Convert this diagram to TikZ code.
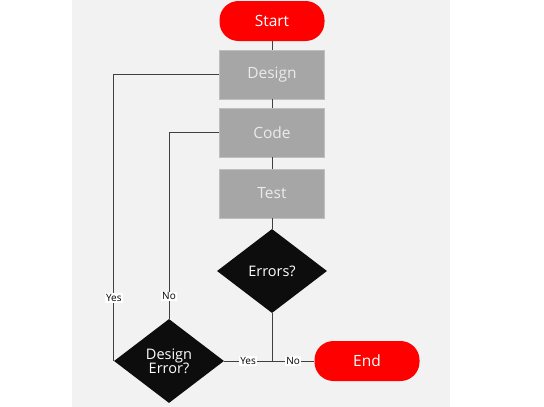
\documentclass[tikz,border=0pt]{standalone}
\usepackage{fontspec}
\setmainfont{Open Sans}
\usetikzlibrary{shapes,arrows,positioning}

\definecolor{bggray}{HTML}{F2F2F2}
\definecolor{boxgray}{HTML}{A6A6A6}
\definecolor{boxedge}{HTML}{BFBFBF}
\definecolor{termred}{HTML}{FF0000}

\tikzset{
    terminal/.style={rectangle, rounded corners=19pt, fill=termred, text=white, minimum width=105pt, minimum height=40pt, font=\fontsize{15.5}{18}\selectfont},
    process/.style={rectangle, draw=boxedge, fill=boxgray, text=white!92!black, minimum width=105pt, minimum height=49pt, font=\fontsize{15.5}{18}\selectfont},
    decision/.style={diamond, fill=black!95, text=white, minimum width=110pt, minimum height=84pt, inner sep=0pt, align=center, font=\fontsize{14.5}{17}\selectfont},
    tag/.style={fill=white, inner sep=1pt, font=\fontsize{10}{12}\selectfont},
    link/.style={draw=black!75, line width=0.8pt}
}

\begin{document}
\begin{tikzpicture}[x=1pt, y=-1pt]
    % Canvas
    \useasboundingbox (0,0) rectangle (544,407);
    \fill[bggray] (72,0) rectangle (450,407);

    % Main column
    \node[terminal] (start) at (272,21) {Start};
    \node[process] (design) at (272,74.5) {Design};
    \node[process] (code) at (272,132.5) {Code};
    \node[process] (test) at (272,193.5) {Test};
    \node[decision] (errors) at (272,271) {Errors?};

    % Bottom row
    \node[decision] (deserr) at (169,361) {Design\\[-3pt]Error?};
    \node[terminal] (end) at (367,361) {End};
    \coordinate (join) at (272,361);

    % Connectors
    \draw[link] (start) -- (design);
    \draw[link] (design) -- (code);
    \draw[link] (code) -- (test);
    \draw[link] (test) -- (errors);
    \draw[link] (errors) -- (join);
    \draw[link] (deserr.east) -- node[tag] {Yes} (join);
    \draw[link] (join) -- node[tag] {No} (end.west);
    \draw[link] (deserr.west) -- node[tag, pos=0.22] {Yes} (deserr.west |- design.west) -- (design.west);
    \draw[link] (deserr.north) -- node[tag, pos=0.12] {No} (deserr.north |- code.west) -- (code.west);
\end{tikzpicture}
\end{document}
